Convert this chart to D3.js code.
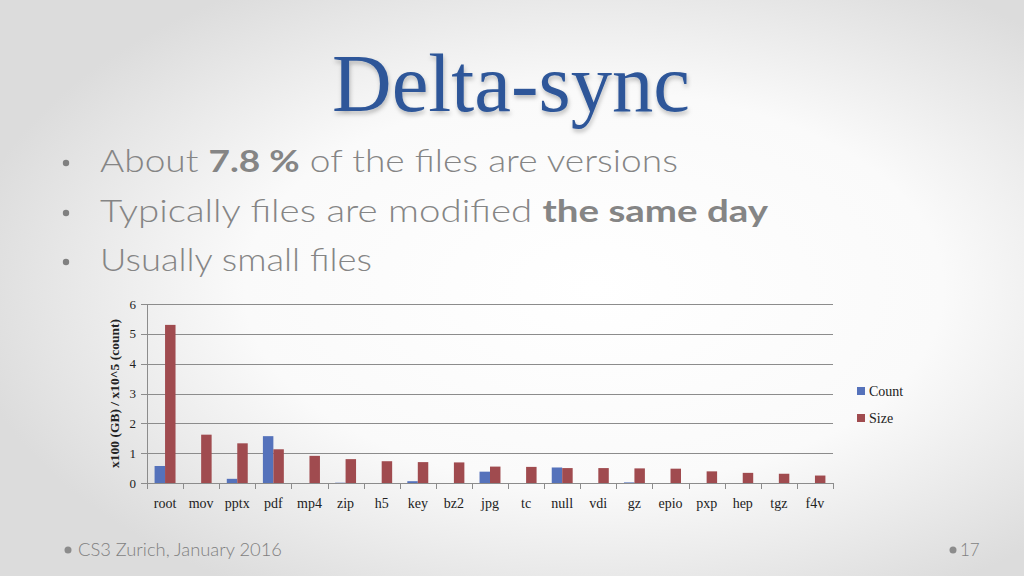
<!DOCTYPE html>
<html>
<head>
<meta charset="utf-8">
<script src="https://cdn.jsdelivr.net/npm/d3@7"></script>
<style>
  html, body { margin: 0; padding: 0; background: #fff; }
  svg { display: block; }
</style>
</head>
<body>
<div id="slide"></div>
<script>
// data
var categories = ["root", "mov", "pptx", "pdf", "mp4", "zip", "h5", "key", "bz2", "jpg",
                  "tc", "null", "vdi", "gz", "epio", "pxp", "hep", "tgz", "f4v"];
var countValues = [0.57, 0, 0.14, 1.57, 0, 0.01, 0, 0.06, 0, 0.38,
                   0, 0.52, 0, 0.02, 0, 0, 0, 0, 0];
var sizeValues = [5.3, 1.62, 1.33, 1.13, 0.91, 0.80, 0.73, 0.70, 0.69, 0.55,
                  0.54, 0.50, 0.50, 0.49, 0.48, 0.39, 0.34, 0.31, 0.25];
var seriesNames = ["Count", "Size"];
var yTicks = [0, 1, 2, 3, 4, 5, 6];

var W = 1024, H = 576;
var colors = {Count: "#5572bb", Size: "#a04b4f"};

var svg = d3.select("#slide").append("svg")
  .attr("width", W)
  .attr("height", H);

// slide background: soft radial gradient
var defs = svg.append("defs");
var grad = defs.append("radialGradient")
  .attr("id", "bg")
  .attr("cx", "58%").attr("cy", "50%").attr("r", "62%");
grad.append("stop").attr("offset", "0%").attr("stop-color", "#ffffff");
grad.append("stop").attr("offset", "55%").attr("stop-color", "#fafafa");
grad.append("stop").attr("offset", "100%").attr("stop-color", "#dcdcdc");

var shadow = defs.append("filter").attr("id", "shadow")
  .attr("x", "-10%").attr("y", "-10%").attr("width", "120%").attr("height", "130%");
shadow.append("feDropShadow")
  .attr("dx", 1).attr("dy", 3).attr("stdDeviation", 2)
  .attr("flood-color", "#000").attr("flood-opacity", 0.25);

svg.append("rect").attr("width", W).attr("height", H).attr("fill", "url(#bg)");

// title
svg.append("text")
  .attr("x", 511).attr("y", 111)
  .attr("text-anchor", "middle")
  .attr("font-family", "'Liberation Serif', 'DejaVu Serif', serif")
  .attr("font-size", 82)
  .attr("fill", "#2e5799")
  .attr("textLength", 358)
  .attr("lengthAdjust", "spacingAndGlyphs")
  .attr("filter", "url(#shadow)")
  .text("Delta-sync");

// bullets
var bullets = [
  {y: 172, len: 578, parts: [["About ", false], ["7.8 %", true], [" of the files are versions", false]]},
  {y: 222, len: 668, parts: [["Typically files are modified ", false], ["the same day", true]]},
  {y: 271, len: 272, parts: [["Usually small files", false]]}
];

bullets.forEach(function(b) {
  svg.append("circle")
    .attr("cx", 66).attr("cy", b.y - 9).attr("r", 3.2)
    .attr("fill", "#808080");
  var t = svg.append("text")
    .attr("x", 100).attr("y", b.y)
    .attr("font-family", "Lato, 'Open Sans', sans-serif")
    .attr("font-size", 31)
    .attr("fill", "#858585")
    .attr("textLength", b.len)
    .attr("lengthAdjust", "spacingAndGlyphs");
  b.parts.forEach(function(p) {
    t.append("tspan")
      .attr("font-weight", p[1] ? "bold" : "300")
      .text(p[0]);
  });
});

// chart
var margin = {left: 147, right: 191, top: 304, bottom: 93};
var plotW = W - margin.left - margin.right;
var plotH = H - margin.top - margin.bottom;

var g = svg.append("g")
  .attr("transform", "translate(" + margin.left + "," + margin.top + ")");

var x = d3.scaleBand().domain(categories).range([0, plotW]).paddingInner(0.42).paddingOuter(0.21);
var xBand = d3.scaleBand().domain(categories).range([0, plotW]);
var xInner = d3.scaleBand().domain(seriesNames).range([0, x.bandwidth()]);
var y = d3.scaleLinear().domain([0, 6]).range([plotH, 0]);

// gridlines
g.append("g")
  .selectAll("line")
  .data(yTicks)
  .enter()
  .append("line")
    .attr("x1", -6).attr("x2", plotW)
    .attr("y1", function(d) { return Math.round(y(d)) + 0.5; })
    .attr("y2", function(d) { return Math.round(y(d)) + 0.5; })
    .attr("stroke", "#8c8c8c")
    .attr("stroke-width", 1);

// y axis line
g.append("line")
  .attr("x1", 0.5).attr("x2", 0.5)
  .attr("y1", y(6)).attr("y2", y(0))
  .attr("stroke", "#8c8c8c");

// y tick labels
g.append("g")
  .selectAll("text")
  .data(yTicks)
  .enter()
  .append("text")
    .attr("x", -11)
    .attr("y", function(d) { return y(d) + 4.5; })
    .attr("text-anchor", "end")
    .attr("font-family", "'Liberation Serif', serif")
    .attr("font-size", 13)
    .attr("fill", "#222")
    .text(function(d) { return d; });

// bars
var rows = categories.map(function(c, i) {
  return {cat: c, vals: [{name: "Count", v: countValues[i]}, {name: "Size", v: sizeValues[i]}]};
});

var groups = g.selectAll(".cat")
  .data(rows)
  .enter()
  .append("g")
    .attr("transform", function(d) { return "translate(" + x(d.cat) + ",0)"; });

groups.selectAll("rect")
  .data(function(d) { return d.vals; })
  .enter()
  .append("rect")
    .attr("x", function(d) { return xInner(d.name); })
    .attr("y", function(d) { return y(d.v); })
    .attr("width", xInner.bandwidth())
    .attr("height", function(d) { return y(0) - y(d.v); })
    .attr("fill", function(d) { return colors[d.name]; });

// x axis line on top of the bars
g.append("line")
  .attr("x1", 0).attr("x2", plotW)
  .attr("y1", Math.round(y(0)) + 0.5).attr("y2", Math.round(y(0)) + 0.5)
  .attr("stroke", "#8c8c8c");

// x ticks between categories
var tickPos = categories.map(function(c) { return xBand(c); }).concat([plotW]);
g.append("g")
  .selectAll("line")
  .data(tickPos)
  .enter()
  .append("line")
    .attr("x1", function(d) { return Math.round(d) + 0.5; })
    .attr("x2", function(d) { return Math.round(d) + 0.5; })
    .attr("y1", y(0)).attr("y2", y(0) + 6)
    .attr("stroke", "#8c8c8c");

// x labels
g.append("g")
  .selectAll("text")
  .data(categories)
  .enter()
  .append("text")
    .attr("x", function(d) { return xBand(d) + xBand.bandwidth() / 2; })
    .attr("y", plotH + 25)
    .attr("text-anchor", "middle")
    .attr("font-family", "'Liberation Serif', serif")
    .attr("font-size", 14)
    .attr("fill", "#222")
    .text(function(d) { return d; });

// y axis title
svg.append("text")
  .attr("transform", "translate(119," + (margin.top + plotH / 2) + ") rotate(-90)")
  .attr("text-anchor", "middle")
  .attr("font-family", "'Liberation Serif', serif")
  .attr("font-weight", "bold")
  .attr("font-size", 13.5)
  .attr("fill", "#222")
  .text("x100 (GB) / x10^5 (count)");

// legend
var legend = svg.append("g")
  .selectAll("g")
  .data(seriesNames)
  .enter()
  .append("g")
    .attr("transform", function(d, i) { return "translate(857," + (387 + i * 27) + ")"; });

legend.append("rect")
  .attr("width", 8).attr("height", 8)
  .attr("fill", function(d) { return colors[d]; });

legend.append("text")
  .attr("x", 12).attr("y", 9)
  .attr("font-family", "'Liberation Serif', serif")
  .attr("font-size", 14)
  .attr("fill", "#222")
  .text(function(d) { return d; });

// footer
svg.append("circle").attr("cx", 68).attr("cy", 550).attr("r", 3.5).attr("fill", "#8c8c8c");
svg.append("text")
  .attr("x", 78).attr("y", 556)
  .attr("font-family", "Lato, sans-serif")
  .attr("font-weight", "300")
  .attr("font-size", 17)
  .attr("fill", "#7f7f7f")
  .attr("textLength", 204)
  .attr("lengthAdjust", "spacingAndGlyphs")
  .text("CS3 Zurich, January 2016");

svg.append("circle").attr("cx", 953).attr("cy", 550).attr("r", 3.5).attr("fill", "#8c8c8c");
svg.append("text")
  .attr("x", 960).attr("y", 556)
  .attr("font-family", "Lato, sans-serif")
  .attr("font-weight", "300")
  .attr("font-size", 17)
  .attr("fill", "#7f7f7f")
  .text("17");
</script>
</body>
</html>
